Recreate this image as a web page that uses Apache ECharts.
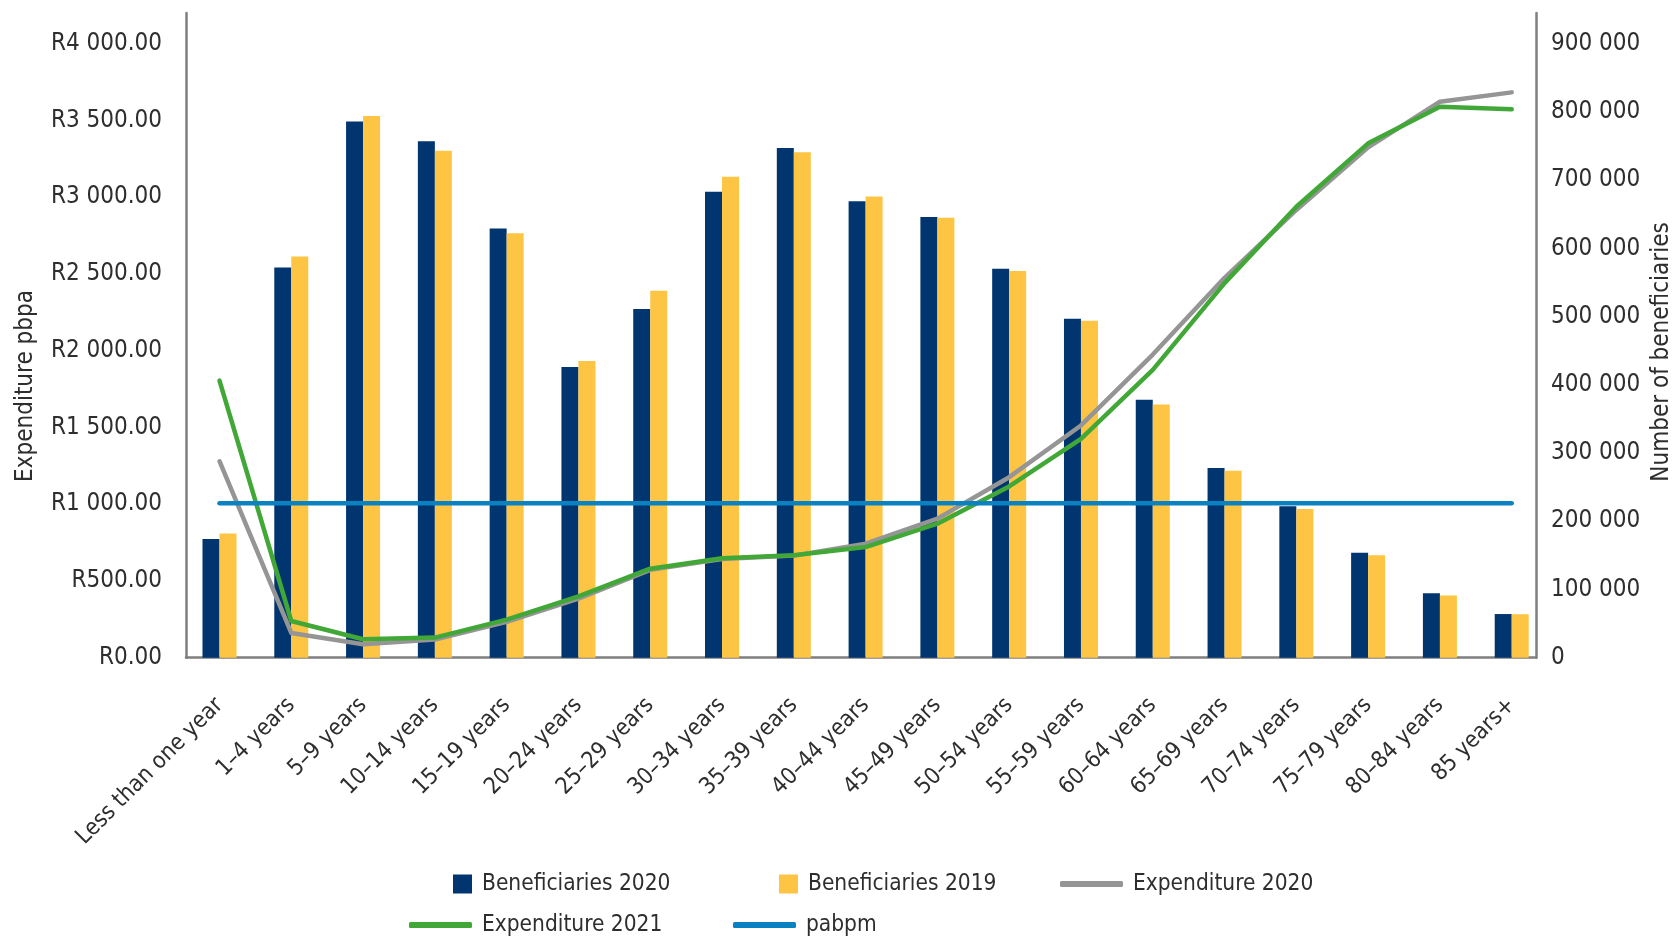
<!DOCTYPE html>
<html>
<head>
<meta charset="utf-8">
<script src="https://cdn.jsdelivr.net/npm/echarts@6/dist/echarts.min.js"></script>
<style>
html,body{margin:0;padding:0;background:#fff;}
#chart{width:1679px;height:937px;}
</style>
</head>
<body>
<div id="chart"></div>
<script>
// ---- data ----
const categories = ['Less than one year','1–4 years','5–9 years','10–14 years','15–19 years','20–24 years','25–29 years','30–34 years','35–39 years','40–44 years','45–49 years','50–54 years','55–59 years','60–64 years','65–69 years','70–74 years','75–79 years','80–84 years','85 years+'];
const beneficiaries2020 = [174000, 572000, 786000, 757000, 629000, 426000, 511000, 683000, 747000, 669000, 646000, 570000, 497000, 378000, 278000, 222000, 154000, 94500, 64000];
const beneficiaries2019 = [182000, 588000, 794000, 743000, 622000, 435000, 538000, 705000, 741000, 676000, 645000, 567000, 494000, 371000, 274000, 218000, 150000, 91000, 63700];
const expenditure2020 = [1280, 161, 88, 118, 233, 385, 572, 643, 665, 743, 906, 1176, 1513, 1975, 2475, 2917, 3325, 3622, 3683];
const expenditure2021 = [1805, 239, 120, 131, 248, 400, 580, 648, 668, 721, 873, 1116, 1426, 1875, 2440, 2938, 3351, 3590, 3573];
const pabpm = [1007, 1007, 1007, 1007, 1007, 1007, 1007, 1007, 1007, 1007, 1007, 1007, 1007, 1007, 1007, 1007, 1007, 1007, 1007];
const leftTicks = {min: 0, max: 4200, interval: 500};
const rightTicks = {min: 0, max: 945000, interval: 100000};

// ---- helpers ----
const FONT = "'DejaVu Sans Condensed', 'DejaVu Sans', sans-serif";
const TXT = '#2e2e2e';
const AXC = '#7f7f7f';
function groupThousands(n){ return String(n).replace(/\B(?=(\d{3})+(?!\d))/g, ' '); }
function randFmt(v){ return 'R' + groupThousands(Math.round(v)) + '.00'; }

const C_NAVY = '#00356f', C_YEL = '#fdc543', C_GRAY = '#959595', C_GREEN = '#41a838', C_BLUE = '#0a82c2';

const chart = echarts.init(document.getElementById('chart'), null, {renderer: 'canvas'});

function legendItem(name, left, top, icon, w, h){
  return {
    data: [name], left: left, top: top, orient: 'horizontal', padding: 0,
    icon: icon, itemWidth: w, itemHeight: h, selectedMode: false,
    textStyle: {fontFamily: FONT, fontSize: 22.5, color: TXT, lineHeight: 30, padding: [0,0,0,5]}
  };
}

const option = {
  animation: false,
  backgroundColor: '#ffffff',
  grid: [
    {left: 183.6, right: 131.4, top: 13, bottom: 279.3},
    {left: 186, right: 143, top: 13, bottom: 279.3}
  ],
  xAxis: [
    {
      type: 'category', gridIndex: 0, data: categories, boundaryGap: true,
      axisLine: {show: false}, axisTick: {show: false},
      axisLabel: {interval: 0, rotate: 45, margin: 44, fontFamily: FONT, fontSize: 23, color: TXT}
    },
    {
      type: 'category', gridIndex: 1, data: categories, boundaryGap: true,
      axisLine: {show: true, lineStyle: {color: AXC, width: 2.5}}, axisTick: {show: false}, axisLabel: {show: false}
    }
  ],
  yAxis: [
    {type: 'value', gridIndex: 0, position: 'left', min: leftTicks.min, max: leftTicks.max, interval: leftTicks.interval, show: false, splitLine: {show: false}},
    {type: 'value', gridIndex: 0, position: 'right', min: rightTicks.min, max: rightTicks.max, interval: rightTicks.interval, show: false, splitLine: {show: false}},
    {
      type: 'value', gridIndex: 1, position: 'left', min: leftTicks.min, max: leftTicks.max, interval: leftTicks.interval,
      axisLine: {show: true, lineStyle: {color: AXC, width: 2.5}}, axisTick: {show: false}, splitLine: {show: false},
      axisLabel: {showMaxLabel: false, margin: 24, fontFamily: FONT, fontSize: 24, color: TXT, formatter: randFmt}
    },
    {
      type: 'value', gridIndex: 1, position: 'right', min: rightTicks.min, max: rightTicks.max, interval: rightTicks.interval,
      axisLine: {show: true, lineStyle: {color: AXC, width: 2.5}}, axisTick: {show: false}, splitLine: {show: false},
      axisLabel: {showMaxLabel: false, margin: 15, fontFamily: FONT, fontSize: 24, color: TXT, formatter: v => groupThousands(v)}
    }
  ],
  legend: [
    legendItem('Beneficiaries 2020', 453, 869, 'rect', 19, 19),
    legendItem('Beneficiaries 2019', 779, 869, 'rect', 19, 19),
    legendItem('Expenditure 2020', 1060, 869, 'roundRect', 63, 6),
    legendItem('Expenditure 2021', 409, 910, 'roundRect', 63, 6),
    legendItem('pabpm', 733, 910, 'roundRect', 63, 6)
  ],
  graphic: [
    {type: 'text', x: 26, y: 386, rotation: Math.PI / 2,
     style: {text: 'Expenditure pbpa', fontFamily: FONT, fontSize: 24, fill: TXT, align: 'center', verticalAlign: 'middle'}},
    {type: 'text', x: 1662, y: 352, rotation: Math.PI / 2,
     style: {text: 'Number of beneficiaries', fontFamily: FONT, fontSize: 24, fill: TXT, align: 'center', verticalAlign: 'middle'}}
  ],
  series: [
    {name: 'Beneficiaries 2020', type: 'bar', xAxisIndex: 0, yAxisIndex: 1, data: beneficiaries2020,
     barWidth: 17, barGap: '0%', itemStyle: {color: C_NAVY}},
    {name: 'Beneficiaries 2019', type: 'bar', xAxisIndex: 0, yAxisIndex: 1, data: beneficiaries2019,
     barWidth: 17, barGap: '0%', itemStyle: {color: C_YEL}},
    {name: 'Expenditure 2020', type: 'line', xAxisIndex: 0, yAxisIndex: 0, data: expenditure2020,
     symbol: 'none', color: C_GRAY, itemStyle: {color: C_GRAY}, lineStyle: {color: C_GRAY, width: 4.5, cap: 'round', join: 'round'}},
    {name: 'Expenditure 2021', type: 'line', xAxisIndex: 0, yAxisIndex: 0, data: expenditure2021,
     symbol: 'none', color: C_GREEN, itemStyle: {color: C_GREEN}, lineStyle: {color: C_GREEN, width: 4.5, cap: 'round', join: 'round'}},
    {name: 'pabpm', type: 'line', xAxisIndex: 0, yAxisIndex: 0, data: pabpm,
     symbol: 'none', color: C_BLUE, itemStyle: {color: C_BLUE}, lineStyle: {color: C_BLUE, width: 4.5, cap: 'round', join: 'round'}}
  ]
};
chart.setOption(option);
</script>
</body>
</html>
